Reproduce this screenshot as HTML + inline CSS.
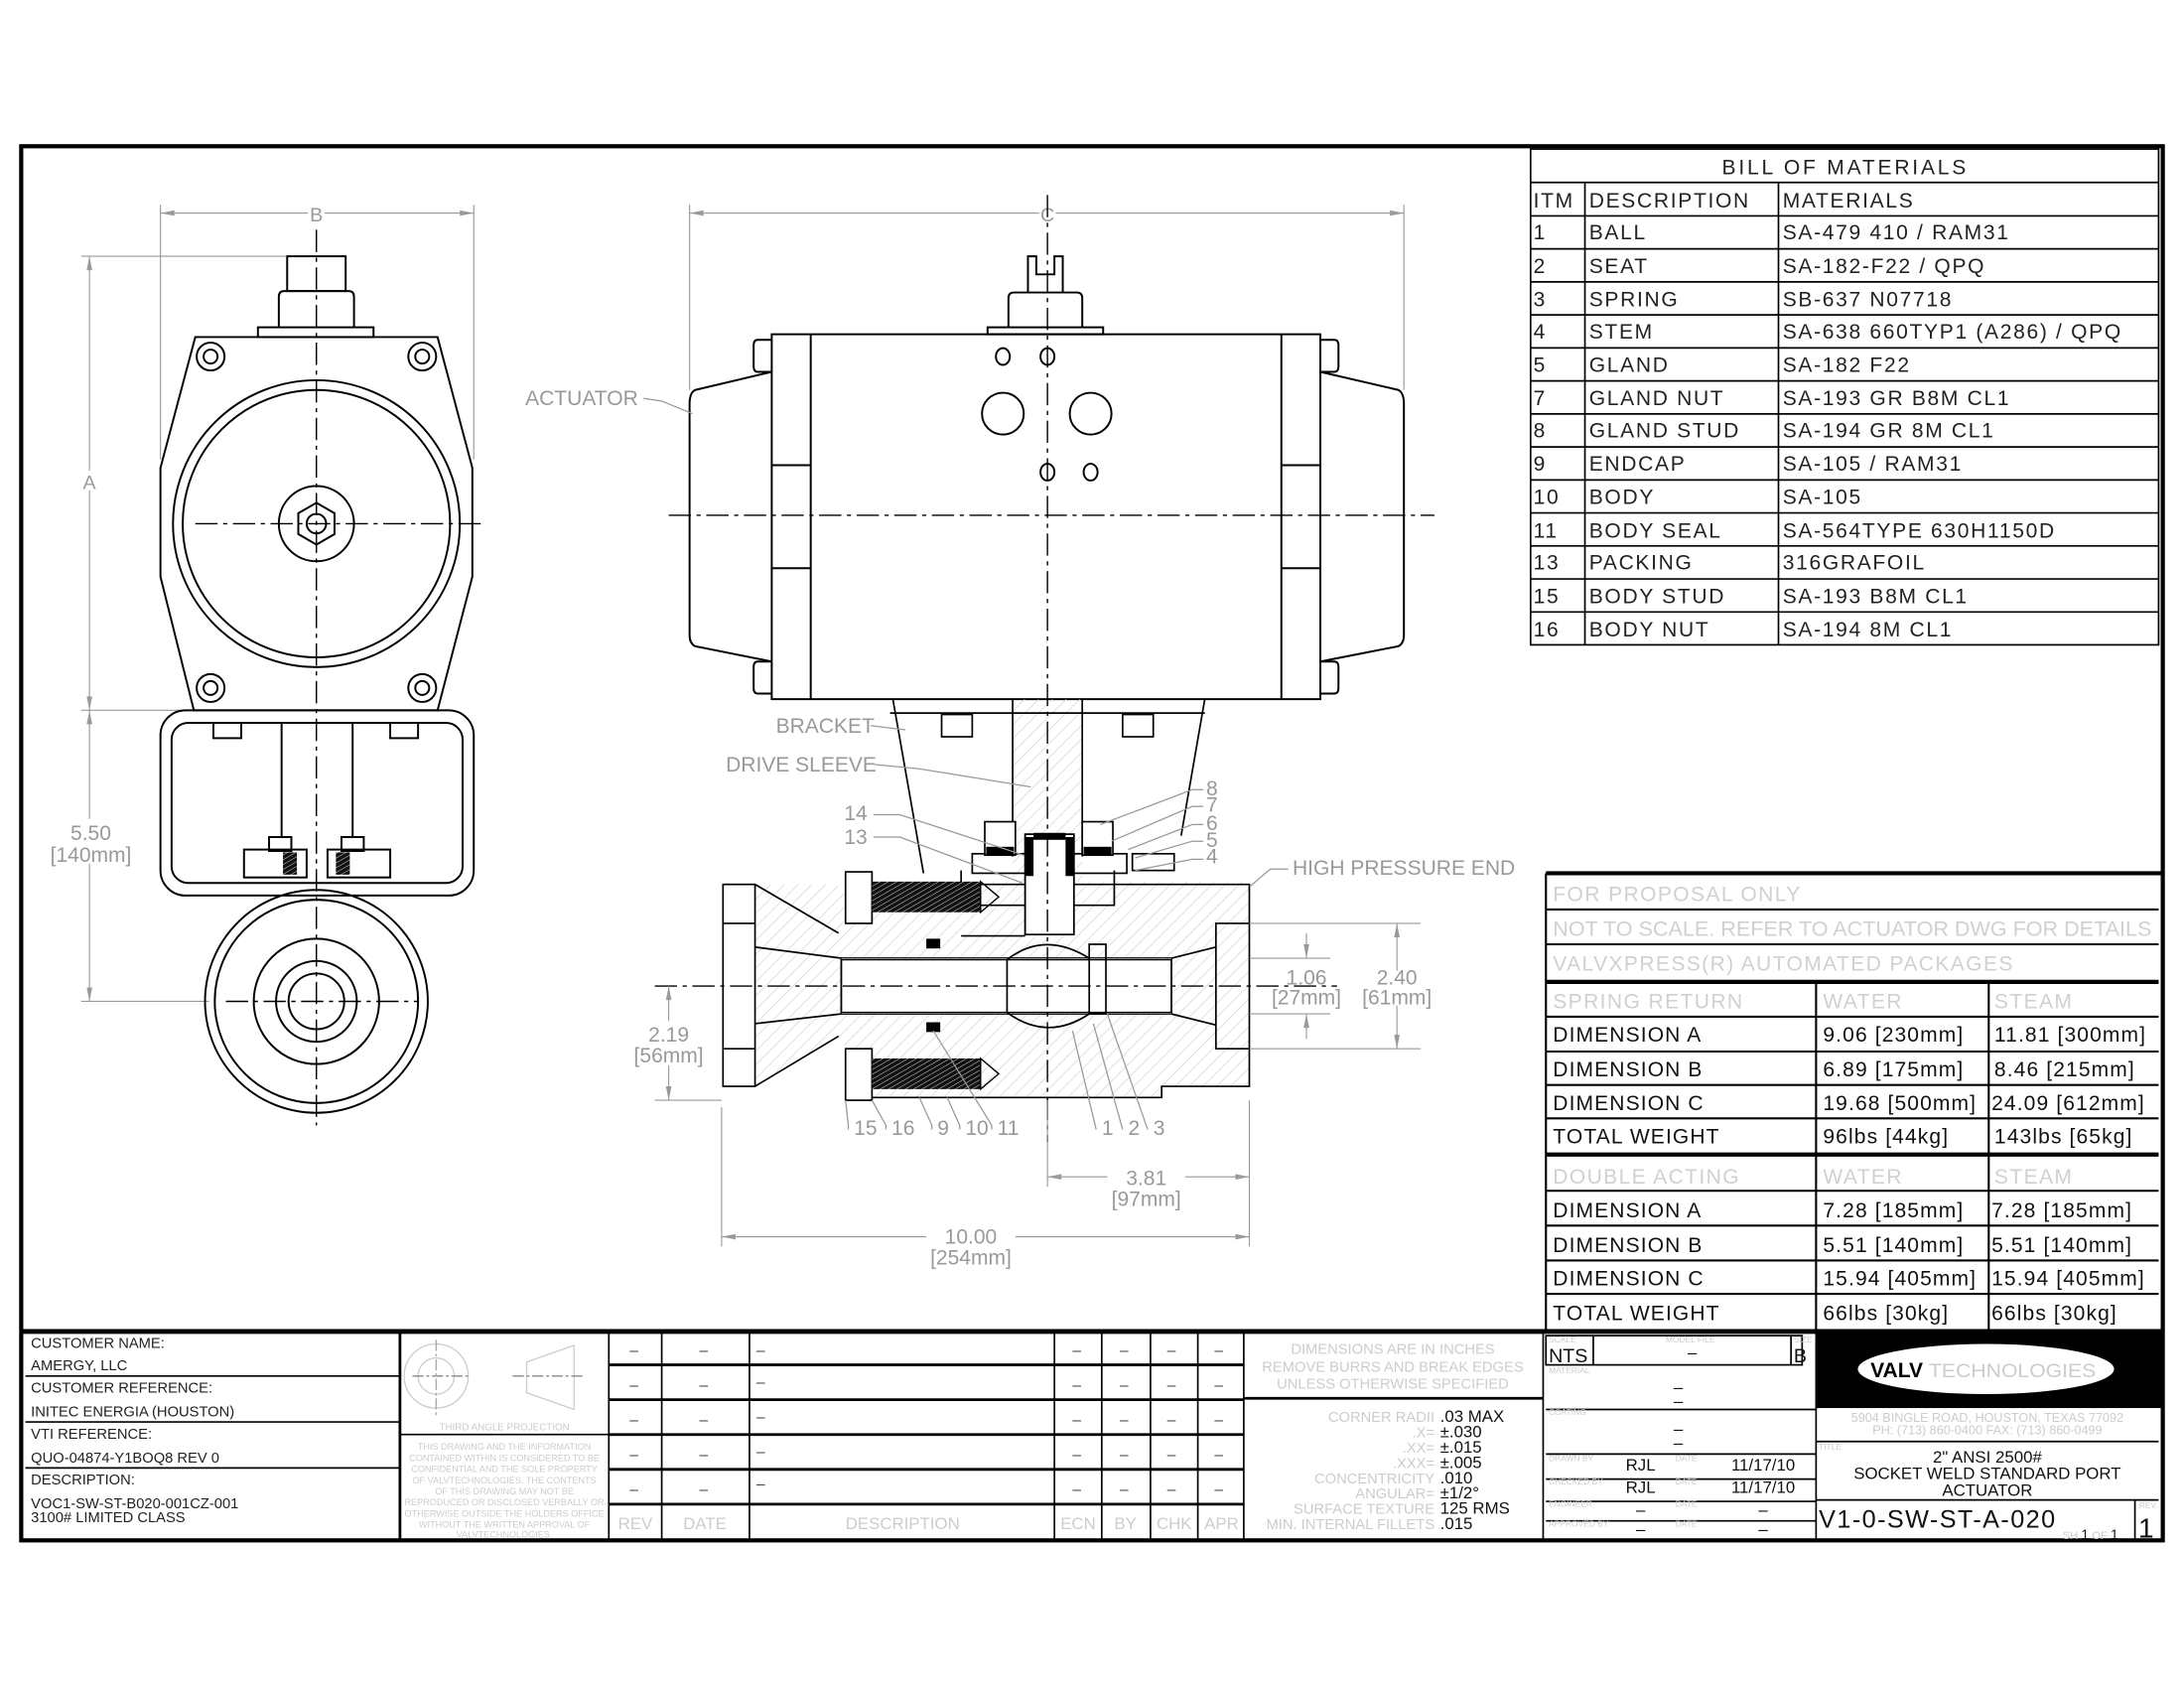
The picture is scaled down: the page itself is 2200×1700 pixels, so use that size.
<!DOCTYPE html>
<html><head><meta charset="utf-8"><style>
html,body{margin:0;padding:0;background:#fff;}
svg{display:block;}
text{font-family:"Liberation Sans",sans-serif;}
</style></head><body>
<svg width="2200" height="1700" viewBox="0 0 1568 1212" xmlns="http://www.w3.org/2000/svg">
<defs>
<pattern id="h" width="7" height="7" patternUnits="userSpaceOnUse" patternTransform="rotate(45)"><line x1="0" y1="0" x2="0" y2="7" stroke="#c8c8c8" stroke-width="0.8"/></pattern>
<pattern id="th" width="3" height="3" patternUnits="userSpaceOnUse" patternTransform="rotate(60)"><rect width="3" height="3" fill="#111"/><line x1="0" y1="0" x2="0" y2="3" stroke="#fff" stroke-width="0.6"/></pattern>
</defs>
<rect width="1568" height="1212" fill="#fff"/>
<rect x="15" y="105" width="1538" height="1001" fill="none" stroke="#000" stroke-width="3"/>

<!-- ===== LEFT VIEW ===== -->
<g fill="none" stroke="#999" stroke-width="0.8">
<line x1="115" y1="153" x2="340" y2="153"/><line x1="115" y1="147" x2="115" y2="330"/><line x1="340" y1="147" x2="340" y2="330"/>
<line x1="64" y1="184" x2="64" y2="719"/><line x1="58" y1="184" x2="205" y2="184"/><line x1="58" y1="510" x2="140" y2="510"/><line x1="58" y1="719" x2="150" y2="719"/>
</g>
<g fill="#999"><path d="M115 153l10-2v4z"/><path d="M340 153l-10-2v4z"/><path d="M64 184l-2 10h4z"/><path d="M64 510l-2-10h4z"/><path d="M64 510l-2 10h4z"/><path d="M64 719l-2-10h4z"/></g>
<rect x="221" y="146" width="12" height="14" fill="#fff"/>
<text x="227" y="159" font-size="14" fill="#999" text-anchor="middle">B</text>
<rect x="57" y="338" width="14" height="14" fill="#fff"/>
<text x="64" y="351" font-size="14" fill="#999" text-anchor="middle">A</text>
<rect x="28" y="588" width="72" height="32" fill="#fff"/>
<text x="65" y="603" font-size="15" fill="#999" text-anchor="middle">5.50</text>
<text x="65" y="619" font-size="15" fill="#999" text-anchor="middle">[140mm]</text>
<g fill="none" stroke="#000" stroke-width="1.4">
<rect x="206" y="184" width="42" height="25"/>
<path d="M200 235V213q0-4 4-4h46q4 0 4 4v22"/>
<rect x="185" y="235" width="83" height="7"/>
<path d="M140 242H314L339 336V414L314 510H139L115 414V336Z"/>
<circle cx="227" cy="376" r="103"/><circle cx="227" cy="376" r="96"/>
<circle cx="227" cy="376" r="27"/><path d="M227 361l13 7.5v15l-13 7.5-13-7.5v-15z"/><circle cx="227" cy="376" r="7"/>
<circle cx="151" cy="256" r="10"/><circle cx="151" cy="256" r="5"/>
<circle cx="303" cy="256" r="10"/><circle cx="303" cy="256" r="5"/>
<circle cx="151" cy="494" r="10"/><circle cx="151" cy="494" r="5"/>
<circle cx="303" cy="494" r="10"/><circle cx="303" cy="494" r="5"/>
<rect x="115" y="510" width="225" height="133" rx="18"/>
<rect x="123" y="519" width="209" height="115" rx="12"/>
<rect x="153" y="519" width="20" height="11"/><rect x="280" y="519" width="20" height="11"/>
<line x1="202" y1="519" x2="202" y2="601"/><line x1="253" y1="519" x2="253" y2="601"/>
<rect x="175" y="610" width="45" height="20"/><rect x="235" y="610" width="45" height="20"/>
<rect x="193" y="601" width="16" height="10"/><rect x="245" y="601" width="16" height="10"/>
<circle cx="227" cy="719" r="80"/><circle cx="227" cy="719" r="73"/>
<circle cx="227" cy="719" r="45"/><circle cx="227" cy="719" r="29"/><circle cx="227" cy="719" r="20"/>
</g>
<rect x="203" y="612" width="10" height="16" fill="url(#th)"/><rect x="241" y="612" width="10" height="16" fill="url(#th)"/>
<g stroke="#000" stroke-width="1" stroke-dasharray="16 4 3 4" fill="none">
<line x1="227" y1="165" x2="227" y2="808"/><line x1="140" y1="376" x2="345" y2="376"/><line x1="162" y1="719" x2="300" y2="719"/>
</g>

<!-- ===== CENTER VIEW ===== -->
<g fill="none" stroke="#999" stroke-width="0.8">
<line x1="495" y1="153" x2="1008" y2="153"/><line x1="495" y1="147" x2="495" y2="280"/><line x1="1008" y1="147" x2="1008" y2="280"/>
</g>
<g fill="#999"><path d="M495 153l10-2v4z"/><path d="M1008 153l-10-2v4z"/></g>
<rect x="746" y="146" width="12" height="14" fill="#fff"/>
<text x="752" y="159" font-size="14" fill="#999" text-anchor="middle">C</text>
<g fill="none" stroke="#000" stroke-width="1.4">
<path d="M738 210V184h6v13h13v-13h6v26"/>
<path d="M724 235V214q0-4 4-4h45q4 0 4 4v21"/>
<rect x="709" y="235" width="83" height="5"/>
<rect x="554" y="240" width="394" height="262"/>
<line x1="582" y1="240" x2="582" y2="502"/><line x1="920" y1="240" x2="920" y2="502"/>
<line x1="554" y1="334" x2="582" y2="334"/><line x1="554" y1="408" x2="582" y2="408"/>
<line x1="920" y1="334" x2="948" y2="334"/><line x1="920" y1="408" x2="948" y2="408"/>
<path d="M554 267L499 280Q495 282 495 290V456Q495 462 499 464L554 475"/>
<path d="M948 267L1004 280Q1008 282 1008 290V456Q1008 462 1004 464L948 475"/>
<path d="M554 244h-10q-3 0-3 4v15q0 4 3 4h10"/><path d="M554 475h-10q-3 0-3 4v15q0 4 3 4h10"/>
<path d="M948 244h10q3 0 3 4v15q0 4-3 4h-10"/><path d="M948 475h10q3 0 3 4v15q0 4-3 4h-10"/>
<ellipse cx="720" cy="256" rx="5" ry="6"/><ellipse cx="752" cy="256" rx="5" ry="6"/>
<circle cx="720" cy="297" r="15"/><circle cx="783" cy="297" r="15"/>
<ellipse cx="752" cy="339" rx="5" ry="6"/><ellipse cx="783" cy="339" rx="5" ry="6"/>
</g>
<path d="M542 635H600L612 645V633H897V780H832V788H626V780L602 744L542 780Z" fill="url(#h)"/>
<path d="M727 502H777V640H727Z" fill="url(#h)"/>
<g fill="none" stroke="#000" stroke-width="1.2">
<path d="M641 502L663 627"/><path d="M865 502L848 600"/>
<line x1="639" y1="512" x2="865" y2="512"/>
<rect x="676" y="513" width="22" height="16"/><rect x="806" y="513" width="22" height="16"/>
<line x1="727" y1="502" x2="727" y2="615"/><line x1="777" y1="502" x2="777" y2="615"/>
<rect x="519" y="635" width="23" height="145"/>
<line x1="519" y1="663" x2="542" y2="663"/><line x1="519" y1="753" x2="542" y2="753"/>
<path d="M542 635L602 670"/><path d="M542 780L602 744"/>
<path d="M626 635H897V780H834V788H626"/>
<path d="M897 663H873V753H897"/>
<line x1="604" y1="688" x2="841" y2="688"/><line x1="604" y1="728" x2="841" y2="728"/>
<path d="M542 680L604 688V728L542 735"/><path d="M841 688L873 680M841 728L873 736"/>
<line x1="604" y1="688" x2="604" y2="728"/><line x1="841" y1="688" x2="841" y2="728"/>
<rect x="736" y="599" width="35" height="72"/>
<rect x="698" y="613" width="111" height="14"/>
<rect x="813" y="613" width="30" height="12"/>
<path d="M690 625V650H736M771 650H800V625"/>
<line x1="690" y1="672" x2="736" y2="672"/>
</g>
<g fill="#fff" stroke="#000" stroke-width="1.2">
<rect x="736" y="599" width="35" height="72"/>
<rect x="604" y="688" width="237" height="40" stroke="none"/>
<rect x="604" y="689" width="237" height="38" fill="none"/>
<path d="M723 689Q750 668 782 688" fill="none"/>
<path d="M723 727Q752 748 782 728" fill="none"/>
<line x1="723" y1="689" x2="723" y2="727"/>
<rect x="782" y="678" width="12" height="50" fill="none"/>
<rect x="707" y="590" width="22" height="24"/><rect x="777" y="590" width="22" height="24"/>
<rect x="607" y="626" width="19" height="37"/><rect x="607" y="753" width="19" height="37"/>
</g>
<rect x="736" y="601" width="6" height="28" fill="#000"/><rect x="765" y="601" width="6" height="28" fill="#000"/>
<rect x="742" y="598" width="23" height="5" fill="#000"/>
<rect x="626" y="633" width="78" height="22" fill="url(#th)"/><path d="M704 633L717 644L704 655Z" fill="none" stroke="#000"/>
<rect x="626" y="760" width="78" height="22" fill="url(#th)"/><path d="M704 760L717 771L704 782Z" fill="none" stroke="#000"/>
<rect x="665" y="674" width="10" height="7" fill="#000"/><rect x="665" y="734" width="10" height="7" fill="#000"/>
<rect x="708" y="608" width="20" height="6" fill="#000"/><rect x="778" y="608" width="20" height="6" fill="#000"/>
<g stroke="#000" stroke-width="1" stroke-dasharray="16 4 3 4" fill="none">
<line x1="752" y1="140" x2="752" y2="820"/><line x1="480" y1="370" x2="1030" y2="370"/><line x1="470" y1="708" x2="960" y2="708"/>
</g>
<g fill="none" stroke="#999" stroke-width="0.8">
<line x1="518" y1="795" x2="518" y2="895"/><line x1="897" y1="790" x2="897" y2="895"/><line x1="752" y1="790" x2="752" y2="852"/>
<line x1="518" y1="888" x2="897" y2="888"/><line x1="752" y1="845" x2="897" y2="845"/>
<line x1="470" y1="790" x2="518" y2="790"/><line x1="480" y1="708" x2="480" y2="790"/>
<line x1="897" y1="688" x2="955" y2="688"/><line x1="897" y1="728" x2="955" y2="728"/>
<line x1="938" y1="670" x2="938" y2="688"/><line x1="938" y1="728" x2="938" y2="746"/>
<line x1="897" y1="663" x2="1020" y2="663"/><line x1="897" y1="753" x2="1020" y2="753"/>
<line x1="1003" y1="663" x2="1003" y2="697"/><line x1="1003" y1="722" x2="1003" y2="753"/>
</g>
<g fill="#999"><path d="M518 888l10-2v4z"/><path d="M897 888l-10-2v4z"/><path d="M752 845l10-2v4z"/><path d="M897 845l-10-2v4z"/>
<path d="M480 708l-2 10h4z"/><path d="M480 790l-2-10h4z"/><path d="M938 688l-2-10h4z"/><path d="M938 728l-2 10h4z"/><path d="M1003 663l-2 10h4z"/><path d="M1003 753l-2-10h4z"/></g>
<g font-size="15" fill="#999" text-anchor="middle">
<rect x="665" y="878" width="64" height="30" fill="#fff"/>
<text x="697" y="893">10.00</text><text x="697" y="908">[254mm]</text>
<rect x="795" y="836" width="56" height="30" fill="#fff"/>
<text x="823" y="851">3.81</text><text x="823" y="866">[97mm]</text>
<rect x="450" y="733" width="60" height="32" fill="#fff"/>
<text x="480" y="748">2.19</text><text x="480" y="763">[56mm]</text>
<text x="938" y="707">1.06</text><text x="938" y="721">[27mm]</text>
<text x="1003" y="707">2.40</text><text x="1003" y="721">[61mm]</text>
</g>
<g font-size="15" fill="#999">
<text x="377" y="291">ACTUATOR</text>
<text x="557" y="526">BRACKET</text>
<text x="521" y="554">DRIVE SLEEVE</text>
<text x="606" y="589">14</text><text x="606" y="606">13</text>
<text x="866" y="571">8</text><text x="866" y="583">7</text><text x="866" y="596">6</text><text x="866" y="608">5</text><text x="866" y="620">4</text>
<text x="928" y="628">HIGH PRESSURE END</text>
<text x="613" y="815">15</text><text x="640" y="815">16</text><text x="673" y="815">9</text><text x="693" y="815">10</text><text x="716" y="815">11</text>
<text x="791" y="815">1</text><text x="810" y="815">2</text><text x="828" y="815">3</text>
</g>
<g fill="none" stroke="#999" stroke-width="0.9">
<path d="M462 286L475 288L497 297"/><path d="M625 521L650 524"/><path d="M628 549L660 552L740 565"/>
<path d="M627 585L646 585L735 614"/><path d="M627 601L646 601L734 634"/>
<path d="M864 567H856L790 592"/><path d="M864 579H856L798 604"/><path d="M864 592H856L810 610"/><path d="M864 604H856L815 616"/><path d="M864 617H856L815 625"/>
<path d="M925 624H912L898 636"/>
<path d="M609 811V808L607 790"/><path d="M636 811V808L626 790"/><path d="M669 811V808L660 788"/><path d="M689 811V808L680 788"/><path d="M712 811V808L670 740"/>
<path d="M787 811L770 740"/><path d="M806 811L785 735"/><path d="M824 811L795 728"/>
</g>

<!-- ===== BOM ===== -->
<g fill="none" stroke="#000" stroke-width="1.2">
<rect x="1099" y="107" width="451" height="356"/>
<line x1="1099" y1="131" x2="1550" y2="131"/>
<line x1="1138" y1="131" x2="1138" y2="463"/><line x1="1277" y1="131" x2="1277" y2="463"/>
<line x1="1099" y1="155" x2="1550" y2="155"/>
<line x1="1099" y1="178.7" x2="1550" y2="178.7"/><line x1="1099" y1="202.4" x2="1550" y2="202.4"/><line x1="1099" y1="226.1" x2="1550" y2="226.1"/>
<line x1="1099" y1="249.8" x2="1550" y2="249.8"/><line x1="1099" y1="273.5" x2="1550" y2="273.5"/><line x1="1099" y1="297.2" x2="1550" y2="297.2"/>
<line x1="1099" y1="320.9" x2="1550" y2="320.9"/><line x1="1099" y1="344.6" x2="1550" y2="344.6"/><line x1="1099" y1="368.3" x2="1550" y2="368.3"/>
<line x1="1099" y1="392" x2="1550" y2="392"/><line x1="1099" y1="415.7" x2="1550" y2="415.7"/><line x1="1099" y1="439.4" x2="1550" y2="439.4"/>
</g>
<g font-size="15" fill="#222" letter-spacing="1.2">
<text x="1325" y="125" text-anchor="middle" letter-spacing="2">BILL OF MATERIALS</text>
<text x="1101" y="149">ITM</text><text x="1141" y="149">DESCRIPTION</text><text x="1280" y="149">MATERIALS</text>
<text x="1101" y="172">1</text><text x="1141" y="172">BALL</text><text x="1280" y="172">SA-479 410 / RAM31</text>
<text x="1101" y="196">2</text><text x="1141" y="196">SEAT</text><text x="1280" y="196">SA-182-F22 / QPQ</text>
<text x="1101" y="220">3</text><text x="1141" y="220">SPRING</text><text x="1280" y="220">SB-637 N07718</text>
<text x="1101" y="243">4</text><text x="1141" y="243">STEM</text><text x="1280" y="243">SA-638 660TYP1 (A286) / QPQ</text>
<text x="1101" y="267">5</text><text x="1141" y="267">GLAND</text><text x="1280" y="267">SA-182 F22</text>
<text x="1101" y="291">7</text><text x="1141" y="291">GLAND NUT</text><text x="1280" y="291">SA-193 GR B8M CL1</text>
<text x="1101" y="314">8</text><text x="1141" y="314">GLAND STUD</text><text x="1280" y="314">SA-194 GR 8M CL1</text>
<text x="1101" y="338">9</text><text x="1141" y="338">ENDCAP</text><text x="1280" y="338">SA-105 / RAM31</text>
<text x="1101" y="362">10</text><text x="1141" y="362">BODY</text><text x="1280" y="362">SA-105</text>
<text x="1101" y="386">11</text><text x="1141" y="386">BODY SEAL</text><text x="1280" y="386">SA-564TYPE 630H1150D</text>
<text x="1101" y="409">13</text><text x="1141" y="409">PACKING</text><text x="1280" y="409">316GRAFOIL</text>
<text x="1101" y="433">15</text><text x="1141" y="433">BODY STUD</text><text x="1280" y="433">SA-193 B8M CL1</text>
<text x="1101" y="457">16</text><text x="1141" y="457">BODY NUT</text><text x="1280" y="457">SA-194 8M CL1</text>
</g>

<!-- ===== DIMENSION TABLE ===== -->
<g fill="none" stroke="#000">
<line x1="1110" y1="627" x2="1553" y2="627" stroke-width="3"/>
<line x1="1110" y1="627" x2="1110" y2="955" stroke-width="1.5"/>
<line x1="1110" y1="653" x2="1550" y2="653" stroke-width="1.5"/>
<line x1="1110" y1="678" x2="1550" y2="678" stroke-width="1.5"/>
<line x1="1110" y1="705" x2="1550" y2="705" stroke-width="3"/>
<line x1="1110" y1="730" x2="1550" y2="730" stroke-width="1.5"/>
<line x1="1110" y1="755" x2="1550" y2="755" stroke-width="1.5"/>
<line x1="1110" y1="779" x2="1550" y2="779" stroke-width="1.5"/>
<line x1="1110" y1="803" x2="1550" y2="803" stroke-width="1.5"/>
<line x1="1110" y1="829" x2="1550" y2="829" stroke-width="3"/>
<line x1="1110" y1="855" x2="1550" y2="855" stroke-width="1.5"/>
<line x1="1110" y1="880" x2="1550" y2="880" stroke-width="1.5"/>
<line x1="1110" y1="905" x2="1550" y2="905" stroke-width="1.5"/>
<line x1="1110" y1="929" x2="1550" y2="929" stroke-width="1.5"/>
<line x1="1304" y1="705" x2="1304" y2="955" stroke-width="1.5"/>
<line x1="1428" y1="705" x2="1428" y2="955" stroke-width="1.5"/>
</g>
<g font-size="15" fill="#d0d0d0">
<text x="1115" y="647" letter-spacing="1">FOR PROPOSAL ONLY</text>
<text x="1115" y="672" textLength="430" lengthAdjust="spacingAndGlyphs">NOT TO SCALE. REFER TO ACTUATOR DWG FOR DETAILS</text>
<text x="1115" y="697" letter-spacing="1">VALVXPRESS(R) AUTOMATED PACKAGES</text>
<text x="1115" y="724" letter-spacing="1">SPRING RETURN</text><text x="1309" y="724" letter-spacing="1">WATER</text><text x="1432" y="724" letter-spacing="1">STEAM</text>
<text x="1115" y="850" letter-spacing="1">DOUBLE ACTING</text><text x="1309" y="850" letter-spacing="1">WATER</text><text x="1432" y="850" letter-spacing="1">STEAM</text>
</g>
<g font-size="15" fill="#111" letter-spacing="0.8">
<text x="1115" y="748">DIMENSION A</text><text x="1309" y="748">9.06 [230mm]</text><text x="1432" y="748">11.81 [300mm]</text>
<text x="1115" y="773">DIMENSION B</text><text x="1309" y="773">6.89 [175mm]</text><text x="1432" y="773">8.46 [215mm]</text>
<text x="1115" y="797">DIMENSION C</text><text x="1309" y="797">19.68 [500mm]</text><text x="1430" y="797">24.09 [612mm]</text>
<text x="1115" y="821">TOTAL WEIGHT</text><text x="1309" y="821">96lbs [44kg]</text><text x="1432" y="821">143lbs [65kg]</text>
<text x="1115" y="874">DIMENSION A</text><text x="1309" y="874">7.28 [185mm]</text><text x="1430" y="874">7.28 [185mm]</text>
<text x="1115" y="899">DIMENSION B</text><text x="1309" y="899">5.51 [140mm]</text><text x="1430" y="899">5.51 [140mm]</text>
<text x="1115" y="923">DIMENSION C</text><text x="1309" y="923">15.94 [405mm]</text><text x="1430" y="923">15.94 [405mm]</text>
<text x="1115" y="948">TOTAL WEIGHT</text><text x="1309" y="948">66lbs [30kg]</text><text x="1430" y="948">66lbs [30kg]</text>
</g>

<!-- ===== TITLE BLOCK ===== -->
<line x1="15" y1="956" x2="1553" y2="956" stroke="#000" stroke-width="3.5"/>
<g fill="none" stroke="#000" stroke-width="1.2">
<line x1="287" y1="956" x2="287" y2="1106" stroke-width="2"/>
<line x1="18" y1="988" x2="287" y2="988"/><line x1="18" y1="1021" x2="287" y2="1021"/><line x1="18" y1="1054" x2="287" y2="1054"/>
<line x1="437" y1="956" x2="437" y2="1106"/><line x1="287" y1="1030" x2="437" y2="1030"/>
<line x1="437" y1="980" x2="893" y2="980" stroke-width="2"/><line x1="437" y1="1005" x2="893" y2="1005" stroke-width="2"/>
<line x1="437" y1="1030" x2="893" y2="1030" stroke-width="2"/><line x1="437" y1="1055" x2="893" y2="1055" stroke-width="2"/>
<line x1="437" y1="1080" x2="893" y2="1080" stroke-width="2"/>
<line x1="475" y1="956" x2="475" y2="1106"/><line x1="538" y1="956" x2="538" y2="1106"/><line x1="757" y1="956" x2="757" y2="1106"/>
<line x1="791" y1="956" x2="791" y2="1106"/><line x1="826" y1="956" x2="826" y2="1106"/><line x1="860" y1="956" x2="860" y2="1106"/>
<line x1="893" y1="956" x2="893" y2="1106"/>
<line x1="893" y1="1004" x2="1108" y2="1004" stroke-width="2"/>
<line x1="1108" y1="956" x2="1108" y2="1106"/>
<line x1="1304" y1="956" x2="1304" y2="1106"/>
<rect x="1110" y="959" width="184" height="21"/><line x1="1144" y1="959" x2="1144" y2="980"/><line x1="1286" y1="959" x2="1286" y2="980"/>
<line x1="1110" y1="1012" x2="1304" y2="1012"/><line x1="1110" y1="1044" x2="1304" y2="1044"/>
<line x1="1110" y1="1062" x2="1304" y2="1062"/><line x1="1110" y1="1078" x2="1304" y2="1078"/><line x1="1110" y1="1092" x2="1304" y2="1092"/>
<line x1="1304" y1="1035" x2="1550" y2="1035"/><line x1="1304" y1="1077" x2="1550" y2="1077"/>
<line x1="1533" y1="1077" x2="1533" y2="1106"/>
</g>
<rect x="1304" y="957" width="249" height="54" fill="#000"/>
<ellipse cx="1426" cy="983" rx="92" ry="18" fill="#fff"/>
<text x="1343" y="989" font-size="15" font-weight="bold" fill="#000">VALV</text>
<text x="1385" y="989" font-size="14" fill="#ccc" textLength="120" lengthAdjust="spacingAndGlyphs">TECHNOLOGIES</text>
<g font-size="10.5" fill="#222">
<text x="22" y="968">CUSTOMER NAME:</text><text x="22" y="984">AMERGY, LLC</text>
<text x="22" y="1000">CUSTOMER REFERENCE:</text><text x="22" y="1017">INITEC ENERGIA (HOUSTON)</text>
<text x="22" y="1033">VTI REFERENCE:</text><text x="22" y="1050">QUO-04874-Y1BOQ8 REV 0</text>
<text x="22" y="1066">DESCRIPTION:</text><text x="22" y="1083">VOC1-SW-ST-B020-001CZ-001</text><text x="22" y="1093">3100# LIMITED CLASS</text>
</g>
<g fill="none" stroke="#ccc" stroke-width="0.9">
<circle cx="313" cy="988" r="23"/><circle cx="313" cy="988" r="13"/>
<path d="M378 978L412 966V1012L378 1000Z"/>
</g>
<line x1="296" y1="988" x2="338" y2="988" stroke="#888" stroke-dasharray="8 2 2 2"/><line x1="368" y1="988" x2="420" y2="988" stroke="#888" stroke-dasharray="8 2 2 2"/>
<line x1="313" y1="962" x2="313" y2="1016" stroke="#aaa" stroke-dasharray="8 2 2 2"/>
<text x="362" y="1027" font-size="7" fill="#ccc" text-anchor="middle">THIRD ANGLE PROJECTION</text>
<g font-size="6.5" fill="#ccc" text-anchor="middle">
<text x="362" y="1041">THIS DRAWING AND THE INFORMATION</text><text x="362" y="1049">CONTAINED WITHIN IS CONSIDERED TO BE</text>
<text x="362" y="1057">CONFIDENTIAL AND THE SOLE PROPERTY</text><text x="362" y="1065">OF VALVTECHNOLOGIES. THE CONTENTS</text>
<text x="362" y="1073">OF THIS DRAWING MAY NOT BE</text><text x="362" y="1081">REPRODUCED OR DISCLOSED VERBALLY OR</text>
<text x="362" y="1089">OTHERWISE OUTSIDE THE HOLDERS OFFICE</text><text x="362" y="1097">WITHOUT THE WRITTEN APPROVAL OF</text><text x="362" y="1104">VALVTECHNOLOGIES.</text>
</g>
<g font-size="11" fill="#444">
<text x="452" y="973">–</text><text x="502" y="973">–</text><text x="543" y="973">–</text><text x="770" y="973">–</text><text x="804" y="973">–</text><text x="838" y="973">–</text><text x="872" y="973">–</text>
<text x="452" y="998">–</text><text x="502" y="998">–</text><text x="543" y="996">–</text><text x="770" y="998">–</text><text x="804" y="998">–</text><text x="838" y="998">–</text><text x="872" y="998">–</text>
<text x="452" y="1023">–</text><text x="502" y="1023">–</text><text x="543" y="1021">–</text><text x="770" y="1023">–</text><text x="804" y="1023">–</text><text x="838" y="1023">–</text><text x="872" y="1023">–</text>
<text x="452" y="1048">–</text><text x="502" y="1048">–</text><text x="543" y="1046">–</text><text x="770" y="1048">–</text><text x="804" y="1048">–</text><text x="838" y="1048">–</text><text x="872" y="1048">–</text>
<text x="452" y="1073">–</text><text x="502" y="1073">–</text><text x="543" y="1069">–</text><text x="770" y="1073">–</text><text x="804" y="1073">–</text><text x="838" y="1073">–</text><text x="872" y="1073">–</text>
</g>
<g font-size="12" fill="#ccc" text-anchor="middle">
<text x="456" y="1098">REV</text><text x="506" y="1098">DATE</text><text x="648" y="1098">DESCRIPTION</text><text x="774" y="1098">ECN</text><text x="808" y="1098">BY</text><text x="843" y="1098">CHK</text><text x="877" y="1098">APR</text>
</g>
<g font-size="10.5" fill="#ccc" text-anchor="middle">
<text x="1000" y="972">DIMENSIONS ARE IN INCHES</text><text x="1000" y="985">REMOVE BURRS AND BREAK EDGES</text><text x="1000" y="997">UNLESS OTHERWISE SPECIFIED</text>
</g>
<g font-size="10.5" fill="#ccc" text-anchor="end">
<text x="1030" y="1021">CORNER RADII</text><text x="1030" y="1032">.X=</text><text x="1030" y="1043">.XX=</text><text x="1030" y="1054">.XXX=</text>
<text x="1030" y="1065">CONCENTRICITY</text><text x="1030" y="1076">ANGULAR=</text><text x="1030" y="1087">SURFACE TEXTURE</text><text x="1030" y="1098">MIN. INTERNAL FILLETS</text>
</g>
<g font-size="12" fill="#111">
<text x="1034" y="1021">.03 MAX</text><text x="1034" y="1032">±.030</text><text x="1034" y="1043">±.015</text><text x="1034" y="1054">±.005</text>
<text x="1034" y="1065">.010</text><text x="1034" y="1076">±1/2°</text><text x="1034" y="1087">125 RMS</text><text x="1034" y="1098">.015</text>
</g>
<g font-size="6" fill="#ccc">
<text x="1112" y="964">SCALE</text><text x="1196" y="964">MODEL FILE</text><text x="1288" y="964">SIZE</text>
<text x="1112" y="986">MATERIAL</text><text x="1112" y="1016">COATING</text>
<text x="1112" y="1049">DRAWN BY</text><text x="1112" y="1066">CHECKED BY</text><text x="1112" y="1082">ENGINEER</text><text x="1112" y="1096">APPROVED BY</text>
<text x="1203" y="1049">DATE</text><text x="1203" y="1066">DATE</text><text x="1203" y="1082">DATE</text><text x="1203" y="1096">DATE</text>
<text x="1306" y="1041">TITLE</text><text x="1536" y="1083">REV.</text>
</g>
<text x="1112" y="978" font-size="14" fill="#111">NTS</text>
<text x="1288" y="978" font-size="14" fill="#111">B</text>
<g font-size="12" fill="#111" text-anchor="middle">
<text x="1215" y="975">–</text><text x="1205" y="1000">–</text><text x="1205" y="1010">–</text><text x="1205" y="1030">–</text><text x="1205" y="1040">–</text>
<text x="1178" y="1056">RJL</text><text x="1178" y="1072">RJL</text><text x="1178" y="1088">–</text><text x="1178" y="1102">–</text>
<text x="1266" y="1056">11/17/10</text><text x="1266" y="1072">11/17/10</text><text x="1266" y="1088">–</text><text x="1266" y="1102">–</text>
</g>
<g font-size="9" fill="#ccc" text-anchor="middle">
<text x="1427" y="1021">5904 BINGLE ROAD, HOUSTON, TEXAS 77092</text>
<text x="1427" y="1030">PH: (713) 860-0400 FAX: (713) 860-0499</text>
</g>
<g font-size="12" fill="#111" text-anchor="middle">
<text x="1427" y="1050">2" ANSI 2500#</text><text x="1427" y="1062">SOCKET WELD STANDARD PORT</text><text x="1427" y="1074">ACTUATOR</text>
</g>
<text x="1306" y="1097" font-size="18" fill="#111" letter-spacing="1">V1-0-SW-ST-A-020</text>
<text x="1481" y="1105" font-size="8" fill="#ccc">SH <tspan fill="#111" font-size="10">1</tspan> OF <tspan fill="#111" font-size="10">1</tspan></text>
<text x="1541" y="1104" font-size="20" fill="#111" text-anchor="middle">1</text>
</svg>
</body></html>
